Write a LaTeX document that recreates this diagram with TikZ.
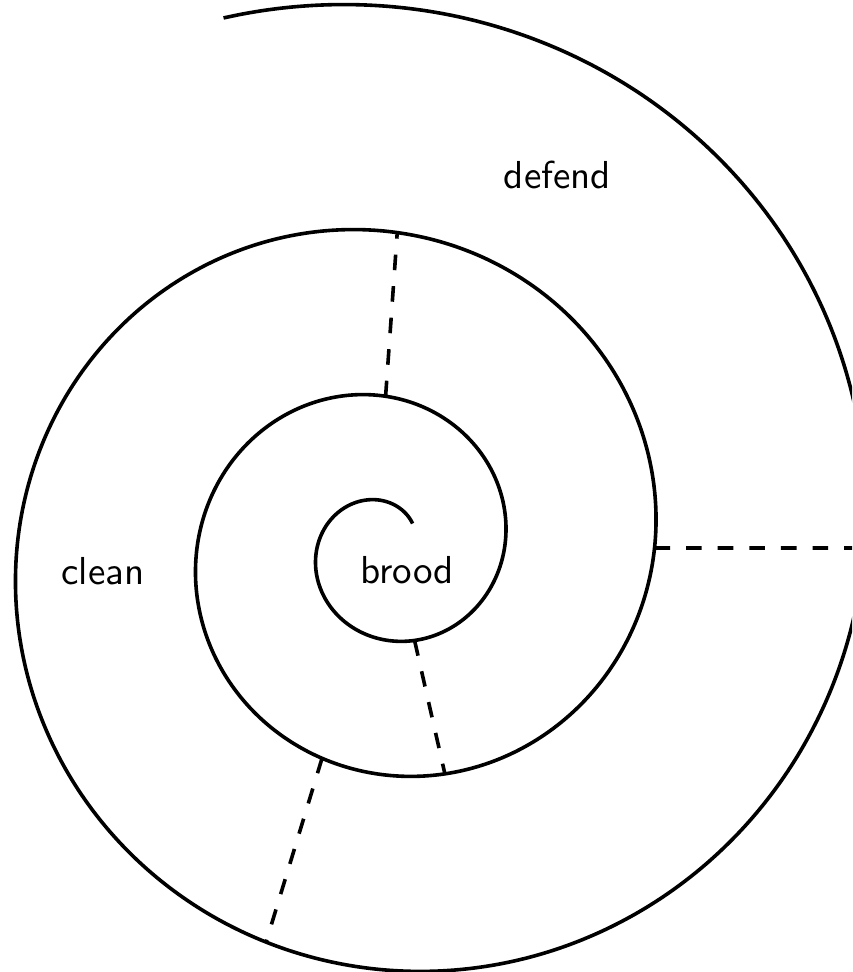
\documentclass[tikz,border=0pt]{standalone}
\usepackage{fontspec}
\newfontfamily\tagfont{lmsans10-regular.otf}
\newcommand\spcx{384.5}
\newcommand\spcy{424}
\newcommand\spka{0.76}
\newcommand\spiralpoint[2]{\coordinate (#1) at ({\spcx+\spka*(#2)*(#2)*cos(deg(#2))},{\spcy+\spka*(#2)*(#2)*sin(deg(#2))});}
\begin{document}
\begin{tikzpicture}[x=0.5pt,y=0.5pt,
  spiralline/.style={line width=1.8pt, line join=round},
  divider/.style={line width=1.8pt, dash pattern=on 7.8pt off 8pt},
  tag/.style={font=\tagfont\fontsize{19.5}{23}\selectfont, inner sep=0pt, anchor=base}]
\clip (0,0) rectangle (852,972);
% spiral
\draw[spiralline] plot[domain=7:27, samples=600, smooth, variable=\t]
  ({\spcx+\spka*\t*\t*cos(deg(\t))}, {\spcy+\spka*\t*\t*sin(deg(\t))});
% divider end points on the spiral
\spiralpoint{a1}{14.13}
\spiralpoint{a2}{20.38}
\spiralpoint{b1}{18.8496}
\spiralpoint{b2}{25.1327}
\spiralpoint{c1}{11.31}
\spiralpoint{c2}{17.54}
\spiralpoint{d1}{16.99}
\spiralpoint{d2}{23.27}
\draw[divider] (a1) -- (a2);
\draw[divider] (b1) -- (b2);
\draw[divider] (c1) -- (c2);
\draw[divider] (d1) -- (d2);
% labels
\node[tag] (defend) at (557.5,783.7) {defend};
\node[tag] (clean) at (103,387.7) {clean};
\node[tag] (brood) at (407.2,388) {brood};
\end{tikzpicture}
\end{document}
